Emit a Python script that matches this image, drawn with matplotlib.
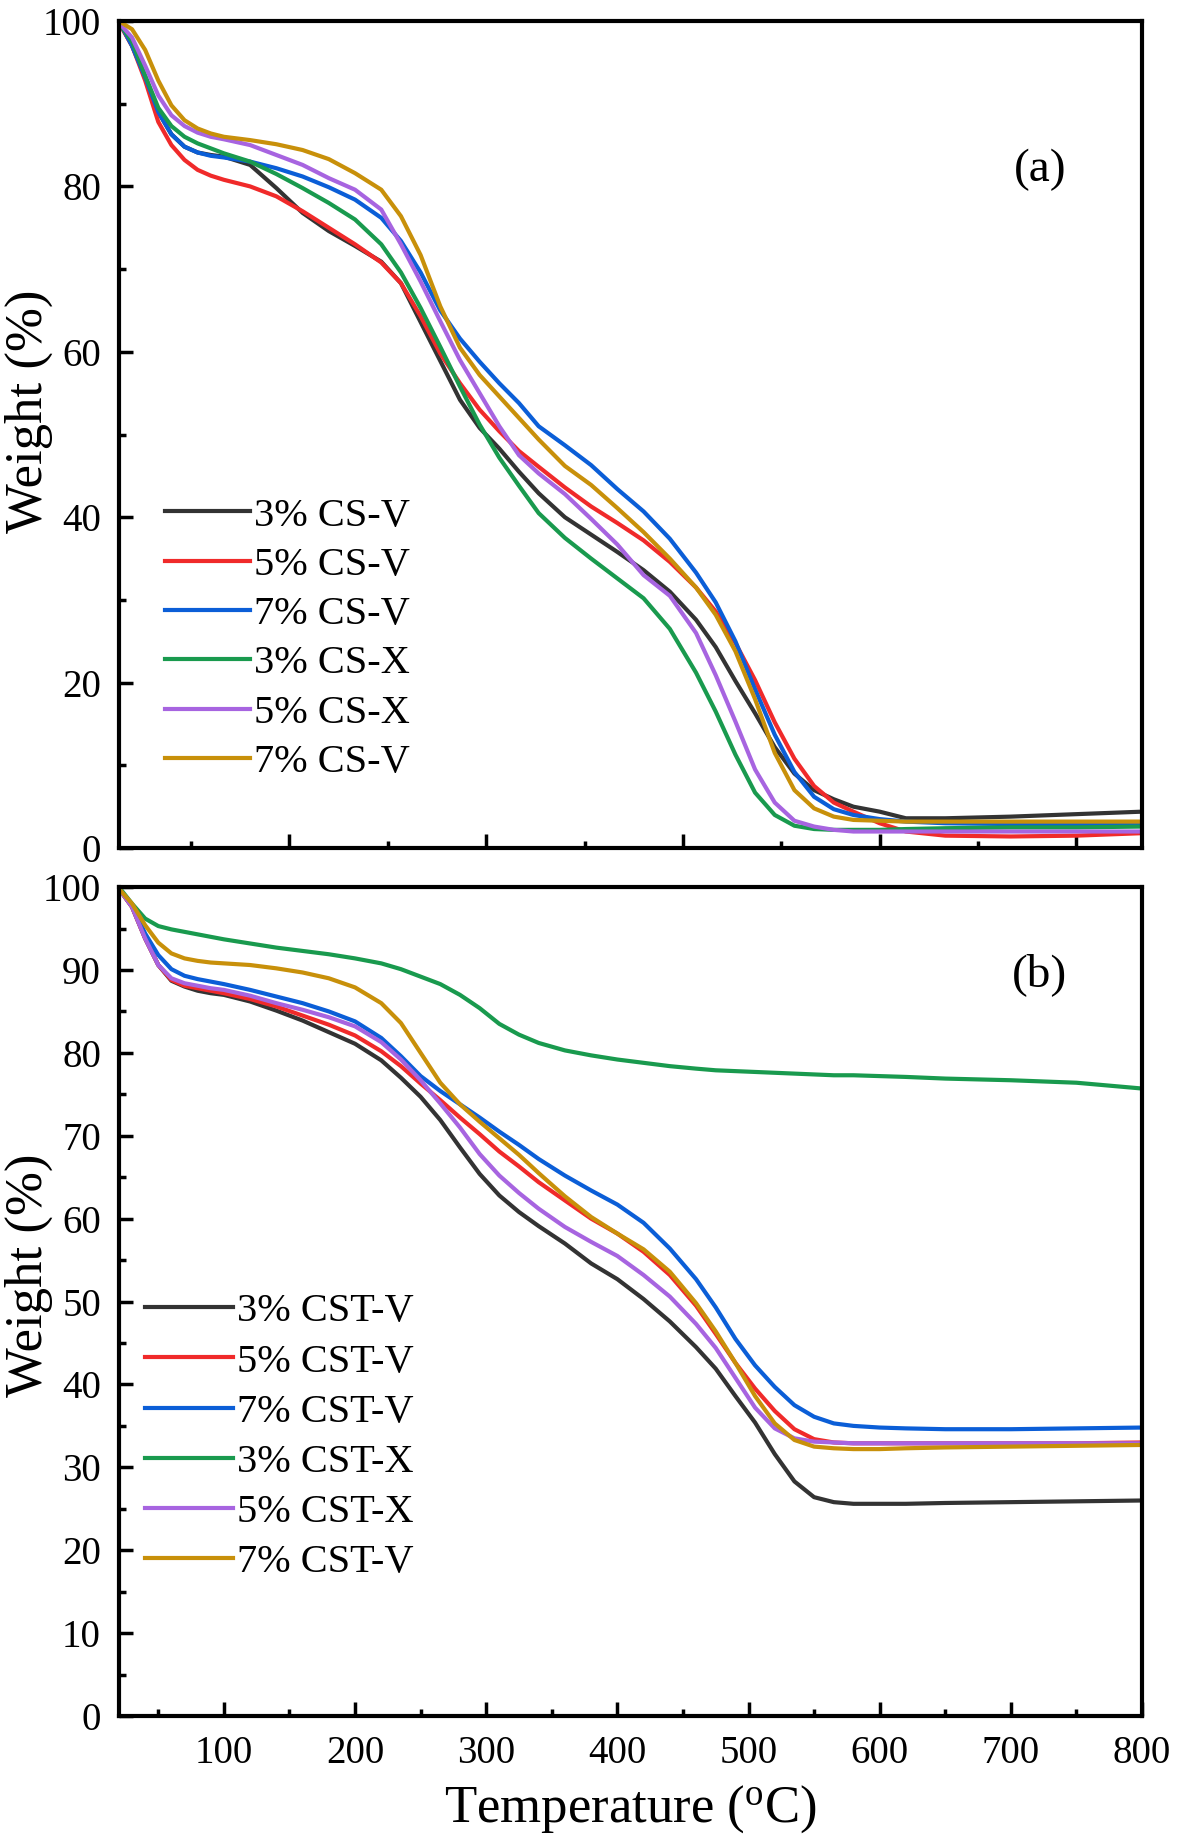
import matplotlib
matplotlib.use("Agg")
import matplotlib.pyplot as plt
from matplotlib.ticker import MultipleLocator

# Temperature grid (oC) used to read both panels
temps = [20, 30, 40, 50, 60, 70, 80, 90, 100, 120, 140, 160, 180, 200, 220,
         235, 250, 265, 280, 295, 310, 325, 340, 360, 380, 400, 420, 440, 460,
         475, 490, 505, 520, 535, 550, 565, 580, 600, 620, 650, 700, 750, 800]

# Panel (a): CS films
labels_a = ["3% CS-V", "5% CS-V", "7% CS-V", "3% CS-X", "5% CS-X", "7% CS-V"]
cs_3v = [99.9, 97.0, 93.3, 89.0, 86.3, 84.8, 84.1, 83.8, 83.6, 82.6, 79.8, 76.8, 74.6, 72.8, 70.9,
         68.3, 63.6, 58.9, 54.2, 50.8, 48.3, 45.5, 42.9, 40.0, 37.9, 35.8, 33.6, 31.0, 27.6,
         24.3, 20.2, 16.3, 12.2, 9.0, 7.0, 5.9, 5.0, 4.4, 3.6, 3.6, 3.8, 4.1, 4.4]
cs_5v = [99.8, 97.0, 92.8, 87.8, 85.0, 83.2, 82.0, 81.3, 80.8, 80.0, 78.8, 77.0, 75.0, 73.0, 70.8,
         68.3, 64.3, 59.8, 56.2, 53.0, 50.4, 48.0, 46.1, 43.6, 41.3, 39.3, 37.2, 34.6, 31.5,
         28.6, 24.8, 20.3, 15.2, 10.8, 7.5, 5.5, 4.4, 3.0, 2.0, 1.5, 1.4, 1.5, 1.8]
cs_7v = [100.0, 97.0, 93.2, 89.0, 86.3, 84.8, 84.1, 83.7, 83.5, 83.0, 82.2, 81.2, 79.9, 78.4, 76.2,
         73.4, 69.6, 65.0, 61.6, 58.8, 56.2, 53.8, 51.0, 48.7, 46.3, 43.4, 40.7, 37.4, 33.3,
         29.7, 25.0, 19.2, 13.7, 9.2, 6.2, 4.7, 4.0, 3.5, 3.2, 3.0, 2.9, 2.8, 2.8]
cs_3x = [99.8, 97.5, 93.4, 89.5, 87.3, 86.0, 85.2, 84.6, 84.0, 83.0, 81.5, 79.8, 78.0, 76.0, 73.0,
         69.6, 65.3, 60.6, 55.8, 51.2, 47.2, 43.8, 40.5, 37.5, 35.0, 32.6, 30.2, 26.5, 21.2,
         16.5, 11.3, 6.7, 4.0, 2.7, 2.3, 2.2, 2.2, 2.2, 2.3, 2.4, 2.5, 2.5, 2.6]
cs_5x = [99.8, 98.0, 94.6, 91.0, 88.6, 87.3, 86.5, 86.0, 85.7, 85.0, 83.8, 82.6, 81.0, 79.6, 77.2,
         73.0, 68.5, 63.7, 59.0, 55.0, 51.0, 47.5, 45.3, 42.8, 39.8, 36.7, 33.0, 30.5, 26.0,
         20.9, 15.3, 9.5, 5.5, 3.3, 2.6, 2.2, 2.0, 2.0, 2.0, 2.0, 2.0, 2.0, 2.0]
cs_7v_b = [100.0, 99.0, 96.5, 92.8, 89.8, 88.0, 87.0, 86.4, 86.0, 85.6, 85.1, 84.4, 83.3, 81.6, 79.6,
           76.4, 71.7, 65.5, 60.5, 57.2, 54.6, 52.0, 49.4, 46.2, 43.9, 41.1, 38.2, 35.0, 31.5,
           28.2, 23.8, 18.0, 11.5, 7.0, 4.8, 3.8, 3.4, 3.3, 3.2, 3.2, 3.2, 3.2, 3.2]

# Panel (b): CST films
labels_b = ["3% CST-V", "5% CST-V", "7% CST-V", "3% CST-X", "5% CST-X", "7% CST-V"]
cst_3v = [99.8, 97.6, 93.8, 90.6, 88.7, 88.0, 87.5, 87.2, 87.0, 86.2, 85.1, 83.9, 82.5, 81.1, 79.1,
          77.0, 74.7, 71.9, 68.6, 65.4, 62.8, 60.8, 59.1, 57.0, 54.6, 52.7, 50.3, 47.6, 44.5,
          41.9, 38.6, 35.4, 31.6, 28.3, 26.4, 25.8, 25.6, 25.6, 25.6, 25.7, 25.8, 25.9, 26.0]
cst_5v = [99.8, 97.6, 93.8, 90.6, 88.8, 88.1, 87.8, 87.5, 87.2, 86.5, 85.6, 84.5, 83.4, 82.1, 80.2,
          78.4, 76.3, 74.3, 72.2, 70.2, 68.1, 66.3, 64.4, 62.2, 60.0, 58.2, 56.0, 53.2, 49.5,
          46.1, 42.6, 39.5, 36.8, 34.6, 33.4, 33.0, 32.9, 32.9, 32.9, 32.9, 32.9, 32.9, 33.0]
cst_7v = [99.8, 97.8, 94.4, 91.8, 90.1, 89.3, 88.9, 88.6, 88.3, 87.6, 86.8, 86.0, 85.0, 83.8, 81.8,
          79.6, 77.2, 75.4, 73.8, 72.2, 70.5, 68.9, 67.2, 65.2, 63.4, 61.7, 59.5, 56.4, 52.7,
          49.3, 45.5, 42.3, 39.7, 37.5, 36.1, 35.3, 35.0, 34.8, 34.7, 34.6, 34.6, 34.7, 34.8]
cst_3x = [100.0, 98.0, 96.2, 95.3, 94.9, 94.6, 94.3, 94.0, 93.7, 93.2, 92.7, 92.3, 91.9, 91.4, 90.8,
          90.1, 89.2, 88.3, 87.0, 85.4, 83.5, 82.2, 81.2, 80.3, 79.7, 79.2, 78.8, 78.4, 78.1,
          77.9, 77.8, 77.7, 77.6, 77.5, 77.4, 77.3, 77.3, 77.2, 77.1, 76.9, 76.7, 76.4, 75.7]
cst_5x = [99.8, 97.6, 93.8, 90.6, 89.0, 88.4, 88.1, 87.8, 87.6, 86.9, 86.0, 85.2, 84.3, 83.2, 81.3,
          79.2, 76.7, 73.9, 71.0, 67.8, 65.2, 63.1, 61.2, 59.0, 57.2, 55.5, 53.2, 50.6, 47.3,
          44.4, 40.8, 37.2, 34.7, 33.5, 33.1, 33.0, 32.9, 32.9, 32.9, 32.9, 32.9, 32.9, 32.9]
cst_7v_b = [99.8, 98.0, 95.4, 93.3, 92.0, 91.4, 91.1, 90.9, 90.8, 90.6, 90.2, 89.7, 89.0, 87.9, 86.0,
            83.6, 80.0, 76.4, 73.8, 71.7, 69.7, 67.7, 65.5, 62.7, 60.2, 58.2, 56.3, 53.6, 49.8,
            46.4, 42.6, 38.6, 35.3, 33.3, 32.5, 32.3, 32.2, 32.2, 32.3, 32.4, 32.5, 32.6, 32.7]

colors = ["#333333", "#f02a2a", "#0b5ed7", "#199a4e", "#a764e0", "#c8900a"]

plt.rcParams["font.family"] = ["Liberation Serif", "DejaVu Serif"]
plt.rcParams["mathtext.fontset"] = "custom"
plt.rcParams["mathtext.rm"] = "Liberation Serif"

fig = plt.figure(figsize=(11.8, 18.42), dpi=100, facecolor="white")
ax_a = fig.add_axes([0.1008, 0.5396, 0.867, 0.449])
ax_b = fig.add_axes([0.1008, 0.0684, 0.867, 0.450])


def style_axis(ax, ymajor, yminor, label_y):
    ax.set_xlim(20, 800)
    ax.set_ylim(0, 100)
    ax.yaxis.set_major_locator(MultipleLocator(ymajor))
    ax.yaxis.set_minor_locator(MultipleLocator(yminor))
    for side in ["left", "right", "top", "bottom"]:
        ax.spines[side].set_linewidth(3)
    ax.tick_params(which="major", direction="in", length=10, width=2.5, labelsize=28)
    ax.tick_params(which="minor", direction="in", length=5, width=2.5)
    ax.tick_params(axis="y", pad=13)
    ax.tick_params(axis="x", pad=14)
    ax.set_ylabel("Weight (%)", fontsize=38)
    ax.yaxis.set_label_coords(-0.064, label_y)


# Panel (a)
for ys, lab, c in zip([cs_3v, cs_5v, cs_7v, cs_3x, cs_5x, cs_7v_b], labels_a, colors):
    ax_a.plot(temps, ys, color=c, linewidth=3, label=lab, solid_joinstyle="round")
style_axis(ax_a, 20, 10, 0.528)
ax_a.xaxis.set_major_locator(MultipleLocator(150))
ax_a.xaxis.set_minor_locator(MultipleLocator(75))
ax_a.tick_params(axis="x", labelbottom=False)
ax_a.text(0.90, 0.82, "(a)", transform=ax_a.transAxes, fontsize=34, ha="center", va="center")
ax_a.legend(loc="upper left", bbox_to_anchor=(0.045, 0.424), frameon=False, fontsize=29,
            handlelength=2.1, handletextpad=0.1, labelspacing=0.3, borderpad=0, borderaxespad=0)

# Panel (b)
for ys, lab, c in zip([cst_3v, cst_5v, cst_7v, cst_3x, cst_5x, cst_7v_b], labels_b, colors):
    ax_b.plot(temps, ys, color=c, linewidth=3, label=lab, solid_joinstyle="round")
style_axis(ax_b, 10, 5, 0.532)
ax_b.xaxis.set_major_locator(MultipleLocator(100))
ax_b.xaxis.set_minor_locator(MultipleLocator(50))
ax_b.set_xlabel(r"Temperature ($\mathregular{^{o}}$C)", fontsize=38, labelpad=8)
ax_b.text(0.90, 0.894, "(b)", transform=ax_b.transAxes, fontsize=34, ha="center", va="center")
ax_b.legend(loc="upper left", bbox_to_anchor=(0.025, 0.51), frameon=False, fontsize=29,
            handlelength=2.2, handletextpad=0.1, labelspacing=0.32, borderpad=0, borderaxespad=0)

fig.savefig("out.png", dpi=100, facecolor="white")
